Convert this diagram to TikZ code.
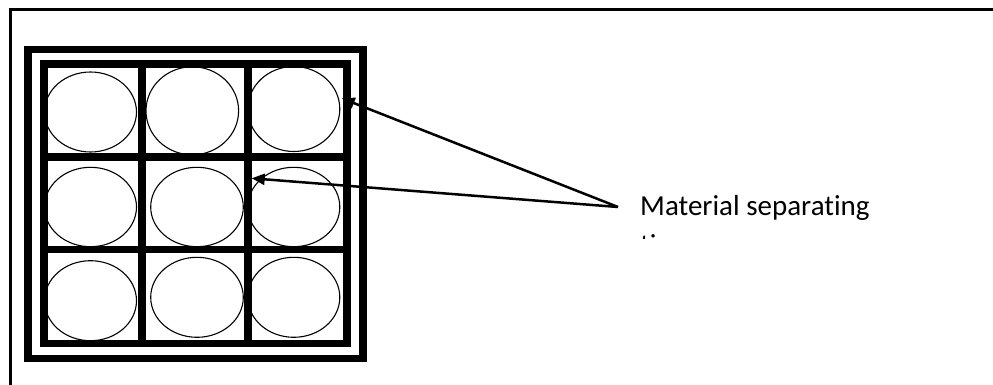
\documentclass[tikz,border=0pt]{standalone}
\usepackage{fontspec}
\setmainfont{Carlito}[RawFeature=-liga]
\usetikzlibrary{arrows.meta}
\begin{document}
\begin{tikzpicture}[x=1pt,y=-1pt,
  frame/.style={line width=3pt},
  thick wall/.style={line width=7.5pt, line join=miter},
  cellshape/.style={draw, line width=1.1pt},
  pointer/.style={line width=2.5pt, -{Triangle[length=13pt,width=11pt]}},
  caption/.style={font=\fontsize{29}{35}\selectfont, inner sep=0pt, anchor=base west}]
\useasboundingbox (0,0) rectangle (993,385);

% page frame (only top and left edges fall inside the picture)
\draw[frame] (10,390) -- (10,10) -- (1000,10);

% outer and inner walls of the tray
\draw[thick wall] (28,49.5) rectangle (363,358.5);
\draw[thick wall] (44,64) rectangle (347,343.5);

% grid walls between the cells
\draw[thick wall] (142,64) -- (142,343.5);
\draw[thick wall] (248,64) -- (248,343.5);
\draw[thick wall] (44,157) -- (347,157);
\draw[thick wall] (44,249.5) -- (347,249.5);

% round items in the cells
\draw[cellshape] (90.5,112) ellipse [x radius=46, y radius=40];
\draw[cellshape] (192.3,110.8) ellipse [x radius=46.3, y radius=44];
\draw[cellshape] (293.8,109) ellipse [x radius=46, y radius=42.5];
\draw[cellshape] (90.5,207) ellipse [x radius=46, y radius=39.7];
\draw[cellshape] (197,207) ellipse [x radius=46.3, y radius=39.7];
\draw[cellshape] (293.8,207) ellipse [x radius=46, y radius=39.7];
\draw[cellshape] (90.5,300.7) ellipse [x radius=46, y radius=40];
\draw[cellshape] (197,297.3) ellipse [x radius=46.3, y radius=40];
\draw[cellshape] (293.8,297.3) ellipse [x radius=46, y radius=40];

% label, its second line cut off by the text box
\node[caption] (label) at (640,215) {Material separating};
\begin{scope}
  \clip (600,222) rectangle (900,238);
  \node[caption] (label2) at (640,254) {tissues};
\end{scope}

% pointers from the label to the walls
\coordinate (src) at (618,207);
\coordinate (wallA) at (341.7,98.3);
\coordinate (wallB) at (251.7,178.3);
\draw[pointer] (src) -- (wallA);
\draw[pointer] (src) -- (wallB);
\end{tikzpicture}
\end{document}
